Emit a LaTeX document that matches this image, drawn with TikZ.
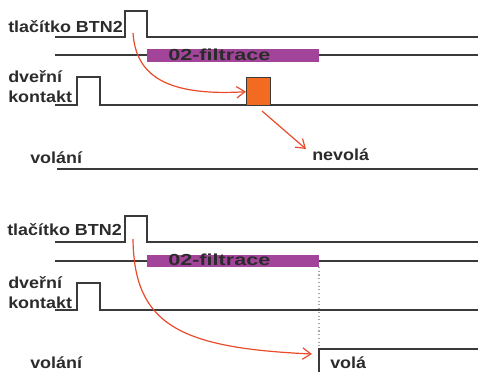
\documentclass[tikz,border=0pt]{standalone}
\usepackage{fontspec}
\setmainfont{Liberation Sans}
\newfontfamily\labelfont[FakeStretch=1.12]{Liberation Sans}
\newfontfamily\barfont[FakeStretch=1.35]{Liberation Sans}
\usepackage{tikz}
\usetikzlibrary{arrows.meta}
\definecolor{sigline}{HTML}{3A3A3A}
\definecolor{labeltext}{HTML}{2B2B2B}
\definecolor{filtrbar}{HTML}{A3449B}
\definecolor{pulsefill}{HTML}{F26B21}
\definecolor{arrowred}{HTML}{E94B2B}
\tikzset{>={Straight Barb[length=2.2mm,width=3mm]}}
\tikzset{
  siglabel/.style={anchor=base west,inner sep=0pt,font=\labelfont\bfseries\fontsize{12}{14}\selectfont,text=labeltext},
  barlabel/.style={anchor=base west,inner sep=0pt,font=\barfont\bfseries\fontsize{12}{14}\selectfont,text=labeltext},
  signal/.style={draw=sigline,line width=1.1pt},
  filtrbox/.style={fill=filtrbar,draw=none},
  pulsebox/.style={shape=rectangle,fill=pulsefill,draw=sigline,line width=1.1pt,inner sep=0pt},
  redarrow/.style={->,draw=arrowred,line width=0.9pt},
  guide/.style={draw=gray!70,dotted,line width=0.8pt}
}

\begin{document}
\begin{tikzpicture}[x=0.75pt,y=-0.75pt]
\useasboundingbox (0,0) rectangle (478,371);

% horni diagram
\path (8,32) node [siglabel] (btnA) {tlačítko BTN2};
\path (8,82) node [siglabel] (dvereA) {dveřní};
\path (8,102) node [siglabel] (kontA) {kontakt};
\path (30,163) node [siglabel] (volaniA) {volání};

\path (147,49) coordinate (fA1) (319,62) coordinate (fA2);
\path [filtrbox] (fA1) rectangle (fA2);
\path (168,60) node [barlabel] (filtrA) {02-filtrace};

\draw [signal] (55,37) -| (125,11) -| (147,37) -- (478,37);
\draw [signal] (55,55) -- (147,55) (319,55) -- (478,55);
\draw [signal] (55,105) -| (77,77) -| (100,105) -- (478,105);
\path (246,77) node [pulsebox,anchor=north west,minimum width=24*0.75pt,minimum height=28*0.75pt] (pulseA) {};
\draw [signal] (57,169) -- (478,169);

\path (312,160) node [siglabel] (nevola) {nevolá};
\path (133,33) coordinate (startA);
\draw [redarrow] (startA) .. controls (136,78) and (170,96) .. (pulseA.west);
\path (262,111) coordinate (fromPulse);
\draw [redarrow,shorten >=6pt] (fromPulse) -- (nevola.west);

% dolni diagram
\path (7,235) node [siglabel] (btnB) {tlačítko BTN2};
\path (8,288) node [siglabel] (dvereB) {dveřní};
\path (8,308) node [siglabel] (kontB) {kontakt};
\path (30,368) node [siglabel] (volaniB) {volání};

\path (147,255) coordinate (fB1) (319,267) coordinate (fB2);
\path [filtrbox] (fB1) rectangle (fB2);
\path (168,265) node [barlabel] (filtrB) {02-filtrace};

\draw [signal] (55,242) -| (125,216) -| (147,242) -- (478,242);
\draw [signal] (55,261) -- (147,261) (319,261) -- (478,261);
\draw [signal] (55,310) -| (77,283) -| (100,310) -- (478,310);
\path (319,349) coordinate (volaB);
\draw [signal] (319,375) |- (478,349);
\draw [guide] (fB2) -- (volaB);

\path (330,368) node [siglabel] (vola) {volá};
\path (133,239) coordinate (startB);
\path (312,354) coordinate (endB);
\draw [redarrow] (startB) .. controls (134,325) and (180,348) .. (endB);

\end{tikzpicture}
\end{document}
